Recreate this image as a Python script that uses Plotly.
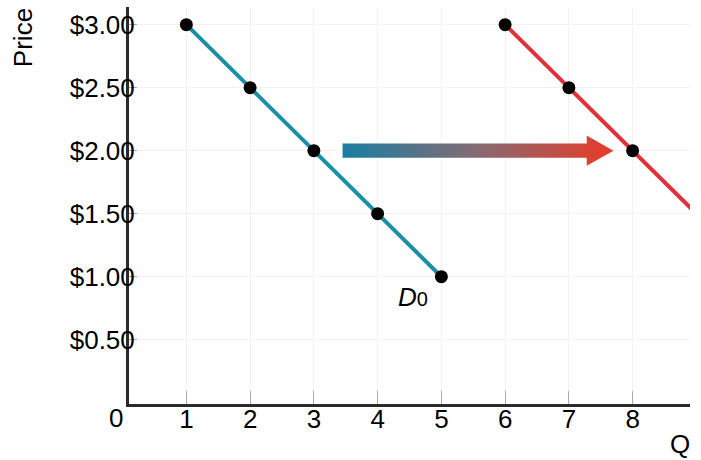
import plotly.graph_objects as go

# Data
q_d0 = [1, 2, 3, 4, 5]
p_d0 = [3.0, 2.5, 2.0, 1.5, 1.0]
q_d1 = [6, 7, 8]
p_d1 = [3.0, 2.5, 2.0]
q_d1_ext = [6, 7, 8, 9]
p_d1_ext = [3.0, 2.5, 2.0, 1.5]

y_tickvals = [0.5, 1.0, 1.5, 2.0, 2.5, 3.0]
y_ticktext = ["$0.50", "$1.00", "$1.50", "$2.00", "$2.50", "$3.00"]
x_tickvals = [1, 2, 3, 4, 5, 6, 7, 8]
x_ticktext = ["1", "2", "3", "4", "5", "6", "7", "8"]

# Shift arrow (at price 2.00)
arrow_price = 2.0
arrow_start_q = 3.45
arrow_headbase_q = 7.28
arrow_tip_q = 7.7
shaft_half = 0.056
head_half = 0.12

BLUE = "#1b8fa6"
RED = "#e0303a"
FONT = "Liberation Sans, Arial, sans-serif"

fig = go.Figure()

ax_ = [arrow_start_q, arrow_headbase_q, arrow_headbase_q, arrow_tip_q,
       arrow_headbase_q, arrow_headbase_q, arrow_start_q, arrow_start_q]
ay_ = [arrow_price + shaft_half, arrow_price + shaft_half, arrow_price + head_half, arrow_price,
       arrow_price - head_half, arrow_price - shaft_half, arrow_price - shaft_half, arrow_price + shaft_half]
fig.add_trace(go.Scatter(
    x=ax_, y=ay_, mode="lines", fill="toself", line=dict(width=0),
    fillgradient=dict(type="horizontal",
                      colorscale=[[0, "#1a7ea3"], [0.5, "#866a72"], [1, "#ea3a28"]]),
    hoverinfo="skip", showlegend=False))

fig.add_trace(go.Scatter(x=q_d0, y=p_d0, mode="lines", line=dict(color=BLUE, width=4),
                         showlegend=False))
fig.add_trace(go.Scatter(x=q_d1_ext, y=p_d1_ext, mode="lines", line=dict(color=RED, width=4),
                         showlegend=False))
fig.add_trace(go.Scatter(x=q_d0 + q_d1, y=p_d0 + p_d1, mode="markers",
                         marker=dict(color="black", size=13), showlegend=False))

fig.update_layout(
    width=701, height=460,
    margin=dict(l=129, r=11, t=7, b=56),
    paper_bgcolor="white", plot_bgcolor="white",
    font=dict(family=FONT, size=26, color="black"),
    xaxis=dict(range=[0.1, 8.9], tickvals=x_tickvals, ticktext=x_ticktext,
               showgrid=True, gridcolor="#f2f2f2", gridwidth=1,
               showline=True, linecolor="#2b2b2b", linewidth=3,
               ticks="inside", ticklen=13, tickcolor="#aaaaaa", tickwidth=1,
               ticklabelstandoff=-10,
               zeroline=False, fixedrange=True),
    yaxis=dict(range=[-0.01, 3.14], tickvals=y_tickvals, ticktext=y_ticktext,
               showgrid=True, gridcolor="#f2f2f2", gridwidth=1,
               showline=True, linecolor="#2b2b2b", linewidth=3,
               ticks="inside", ticklen=8, tickcolor="#aaaaaa", tickwidth=1,
               ticklabelstandoff=-14,
               zeroline=False, fixedrange=True),
    annotations=[
        dict(text="<i>D</i><span style='font-size:20px'>0</span>", x=4.55, y=0.84,
             xref="x", yref="y", xanchor="center", yanchor="middle",
             showarrow=False, font=dict(size=26)),
        dict(text="Q", x=0.982, y=-0.102, xref="paper", yref="paper",
             xanchor="center", yanchor="middle",
             showarrow=False, font=dict(size=26)),
        dict(text="Price", x=-0.189, y=0.924, xref="paper", yref="paper",
             xanchor="center", yanchor="middle",
             textangle=-90, showarrow=False, font=dict(size=26)),
        dict(text="0", x=-0.023, y=-0.035, xref="paper", yref="paper",
             xanchor="center", yanchor="middle",
             showarrow=False, font=dict(size=26)),
    ],
)

fig.write_html("out.html", config={"displayModeBar": False},
               post_script="document.body.style.margin='0';")
